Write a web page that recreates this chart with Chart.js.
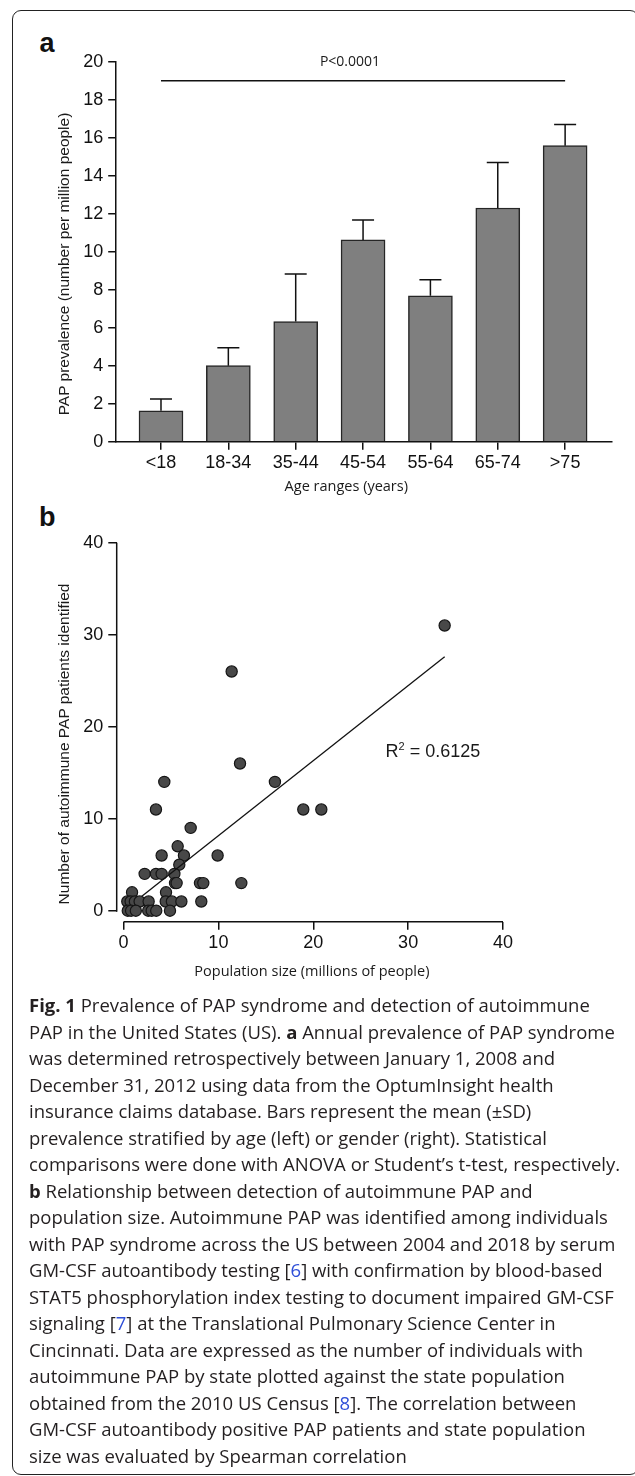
<!DOCTYPE html>
<html><head><meta charset="utf-8">
<script src="https://cdn.jsdelivr.net/npm/chart.js@4.4.1/dist/chart.umd.min.js"></script>
<style>
html,body{margin:0;padding:0;background:#fff;}
body{width:635px;height:1476px;position:relative;overflow:hidden;}
#frame{position:absolute;left:12px;top:10px;width:627px;height:1465px;border:1.5px solid #222;border-radius:9px;box-sizing:border-box;}
.abs{position:absolute;white-space:nowrap;line-height:1;color:#1a1a1a;}
.plabel{font-family:'Liberation Sans',Arial,sans-serif;font-weight:bold;font-size:27px;color:#111;}
.os{font-family:'Open Sans',sans-serif;}
.ar{font-family:'Liberation Sans',Arial,sans-serif;}
.ytitle{font-family:'Liberation Sans',Arial,sans-serif;font-size:15.5px;transform:translate(-50%,-50%) rotate(-90deg);}
canvas{position:absolute;left:0;}
#caption{position:absolute;left:29px;top:992px;font-family:'Open Sans',sans-serif;font-size:18.5px;line-height:26.5px;color:#231f20;white-space:nowrap;}
#caption b{font-weight:700;}
.ref{color:#2f4fd8;}
</style>
</head>
<body>
<div id="frame"></div>
<div class="abs plabel" style="left:39.5px;top:30.4px;">a</div>
<div class="abs plabel" style="left:39px;top:503.8px;">b</div>
<canvas id="barChart" width="635" height="450" style="top:30px;"></canvas>
<canvas id="scatterChart" width="635" height="480" style="top:520px;"></canvas>
<div class="abs os" style="left:350px;top:54.3px;font-size:14px;transform:translateX(-50%);">P&lt;0.0001</div>
<div class="abs os" style="left:346.3px;top:478.8px;font-size:14.5px;transform:translateX(-50%);">Age ranges (years)</div>
<div class="abs ytitle" style="left:63.5px;top:264px;">PAP prevalence (number per million people)</div>
<div class="abs ytitle" style="left:63.5px;top:743.5px;">Number of autoimmune PAP patients identified</div>
<div class="abs os" style="left:311.9px;top:963.8px;font-size:14.5px;transform:translateX(-50%);">Population size (millions of people)</div>
<div class="abs ar" style="left:385.5px;top:741.8px;font-size:18px;">R<sup style="font-size:11px;vertical-align:7px;line-height:0;">2</sup> = 0.6125</div>
<div id="caption"><b>Fig. 1</b> Prevalence of PAP syndrome and detection of autoimmune<br>PAP in the United States (US). <b>a</b> Annual prevalence of PAP syndrome<br>was determined retrospectively between January 1, 2008 and<br>December 31, 2012 using data from the OptumInsight health<br>insurance claims database. Bars represent the mean (±SD)<br>prevalence stratified by age (left) or gender (right). Statistical<br>comparisons were done with ANOVA or Student’s t-test, respectively.<br><b>b</b> Relationship between detection of autoimmune PAP and<br>population size. Autoimmune PAP was identified among individuals<br>with PAP syndrome across the US between 2004 and 2018 by serum<br>GM-CSF autoantibody testing [<span class="ref">6</span>] with confirmation by blood-based<br>STAT5 phosphorylation index testing to document impaired GM-CSF<br>signaling [<span class="ref">7</span>] at the Translational Pulmonary Science Center in<br>Cincinnati. Data are expressed as the number of individuals with<br>autoimmune PAP by state plotted against the state population<br>obtained from the 2010 US Census [<span class="ref">8</span>]. The correlation between<br>GM-CSF autoantibody positive PAP patients and state population<br>size was evaluated by Spearman correlation</div>

<script>
// ---- Panel a data ----
const ageLabels = ['<18', '18-34', '35-44', '45-54', '55-64', '65-74', '>75'];
const prevalenceMean = [1.63, 4.0, 6.32, 10.62, 7.68, 12.3, 15.58];
const prevalenceSD = [0.62, 0.95, 2.51, 1.05, 0.85, 2.4, 1.12];
const prevalenceTicks = [0, 2, 4, 6, 8, 10, 12, 14, 16, 18, 20];
const pBracketLevel = 19;

// ---- Panel b data ----
const popMillions = [33.85, 11.4, 12.28, 4.3, 15.96, 3.42, 18.95, 20.85, 7.08, 5.71, 4.02, 6.37, 9.92, 5.88,
  2.23, 3.42, 4.02, 5.36, 5.43, 5.6, 8.06, 8.41, 12.42, 0.9, 4.48,
  0.4, 0.75, 1.2, 1.7, 2.65, 4.45, 5.1, 6.1, 8.2,
  0.45, 0.8, 1.3, 2.6, 2.97, 3.45, 4.9];
const papPatients = [31, 26, 16, 14, 14, 11, 11, 11, 9, 7, 6, 6, 6, 5,
  4, 4, 4, 4, 3, 3, 3, 3, 3, 2, 2,
  1, 1, 1, 1, 1, 1, 1, 1, 1,
  0, 0, 0, 0, 0, 0, 0];
const fitLineX = [1.9, 33.85];
const fitLineY = [1.55, 27.6];
const popTicks = [0, 10, 20, 30, 40];
const patientTicks = [0, 10, 20, 30, 40];

const TICK_FONT = {family: "'Liberation Sans', Arial, sans-serif", size: 18};
const INK = '#111';

const errorBars = {
  id: 'errorBars',
  afterDatasetsDraw(chart) {
    const {ctx} = chart; const x = chart.scales.x, y = chart.scales.y;
    ctx.save(); ctx.strokeStyle = INK; ctx.lineWidth = 1.5;
    prevalenceMean.forEach((m, i) => {
      const px = x.getPixelForValue(i);
      const y0 = y.getPixelForValue(m), y1 = y.getPixelForValue(m + prevalenceSD[i]);
      ctx.beginPath(); ctx.moveTo(px, y0); ctx.lineTo(px, y1);
      ctx.moveTo(px - 11, y1); ctx.lineTo(px + 11, y1); ctx.stroke();
    });
    ctx.restore();
  }
};

new Chart(document.getElementById('barChart'), {
  type: 'bar',
  data: {
    datasets: [
      { type: 'line', data: [{x: 0, y: pBracketLevel}, {x: ageLabels.length - 1, y: pBracketLevel}],
        borderColor: INK, borderWidth: 1.5, pointRadius: 0, order: 0 },
      { type: 'bar', data: prevalenceMean.map((v, i) => ({x: i, y: v})),
        backgroundColor: '#7f7f7f', borderColor: '#262626', borderWidth: 1.5, barThickness: 44, order: 1 }
    ]
  },
  options: {
    responsive: false, animation: false, devicePixelRatio: 1,
    layout: {padding: {left: 0, top: 31.7, right: 23.4, bottom: 0}},
    plugins: {legend: {display: false}, tooltip: {enabled: false}},
    scales: {
      x: {
        type: 'linear', min: -0.665, max: 6.69, offset: false,
        grid: {offset: false, drawOnChartArea: false, drawTicks: true, tickLength: 8, color: INK, lineWidth: 1.5},
        border: {display: true, color: INK, width: 1.5},
        ticks: {stepSize: 1, includeBounds: false, autoSkip: false, maxRotation: 0, font: TICK_FONT, color: INK, padding: 3,
          callback: (v) => ageLabels[v] !== undefined ? ageLabels[v] : ''},
        afterFit: (s) => { s.height = 38.3; }
      },
      y: {
        min: prevalenceTicks[0], max: prevalenceTicks[prevalenceTicks.length - 1],
        grid: {drawOnChartArea: false, drawTicks: true, tickLength: 8, color: INK, lineWidth: 1.5},
        border: {display: true, color: INK, width: 1.5},
        ticks: {stepSize: 2, font: TICK_FONT, color: INK, padding: 5},
        afterFit: (s) => { s.width = 116.2; }
      }
    }
  },
  plugins: [errorBars]
});

const offsetAxes = {
  id: 'offsetAxes',
  afterDraw(chart) {
    const {ctx, chartArea} = chart; const x = chart.scales.x, y = chart.scales.y;
    ctx.save(); ctx.strokeStyle = INK; ctx.lineWidth = 1.5;
    ctx.beginPath();
    ctx.moveTo(chartArea.left, y.getPixelForValue(patientTicks[patientTicks.length - 1]));
    ctx.lineTo(chartArea.left, y.getPixelForValue(0) + 1);
    ctx.moveTo(x.getPixelForValue(popTicks[0]), chartArea.bottom);
    ctx.lineTo(x.getPixelForValue(popTicks[popTicks.length - 1]), chartArea.bottom);
    ctx.stroke(); ctx.restore();
  }
};

new Chart(document.getElementById('scatterChart'), {
  type: 'scatter',
  data: {
    datasets: [
      { data: fitLineX.map((v, i) => ({x: v, y: fitLineY[i]})), showLine: true,
        borderColor: INK, borderWidth: 1.3, pointRadius: 0, order: 0 },
      { data: popMillions.map((v, i) => ({x: v, y: papPatients[i]})),
        backgroundColor: '#484848', borderColor: '#151515', borderWidth: 1.2, pointRadius: 5.6, order: 1 }
    ]
  },
  options: {
    responsive: false, animation: false, devicePixelRatio: 1,
    layout: {padding: {left: 0, top: 22.7, right: 132, bottom: 0}},
    plugins: {legend: {display: false}, tooltip: {enabled: false}},
    scales: {
      x: {
        type: 'linear', min: -0.717, max: 40,
        grid: {drawOnChartArea: false, drawTicks: true, tickLength: 8, color: INK, lineWidth: 1.5},
        border: {display: false},
        ticks: {stepSize: 10, includeBounds: false, font: TICK_FONT, color: INK, padding: 3, maxRotation: 0},
        afterFit: (s) => { s.height = 78.3; }
      },
      y: {
        type: 'linear', min: -1.196, max: 40,
        grid: {drawOnChartArea: false, drawTicks: true, tickLength: 8.4, color: INK, lineWidth: 1.5},
        border: {display: false},
        ticks: {stepSize: 10, includeBounds: false, font: TICK_FONT, color: INK, padding: 5},
        afterFit: (s) => { s.width = 116.7; }
      }
    }
  },
  plugins: [offsetAxes]
});
</script>
</body></html>
